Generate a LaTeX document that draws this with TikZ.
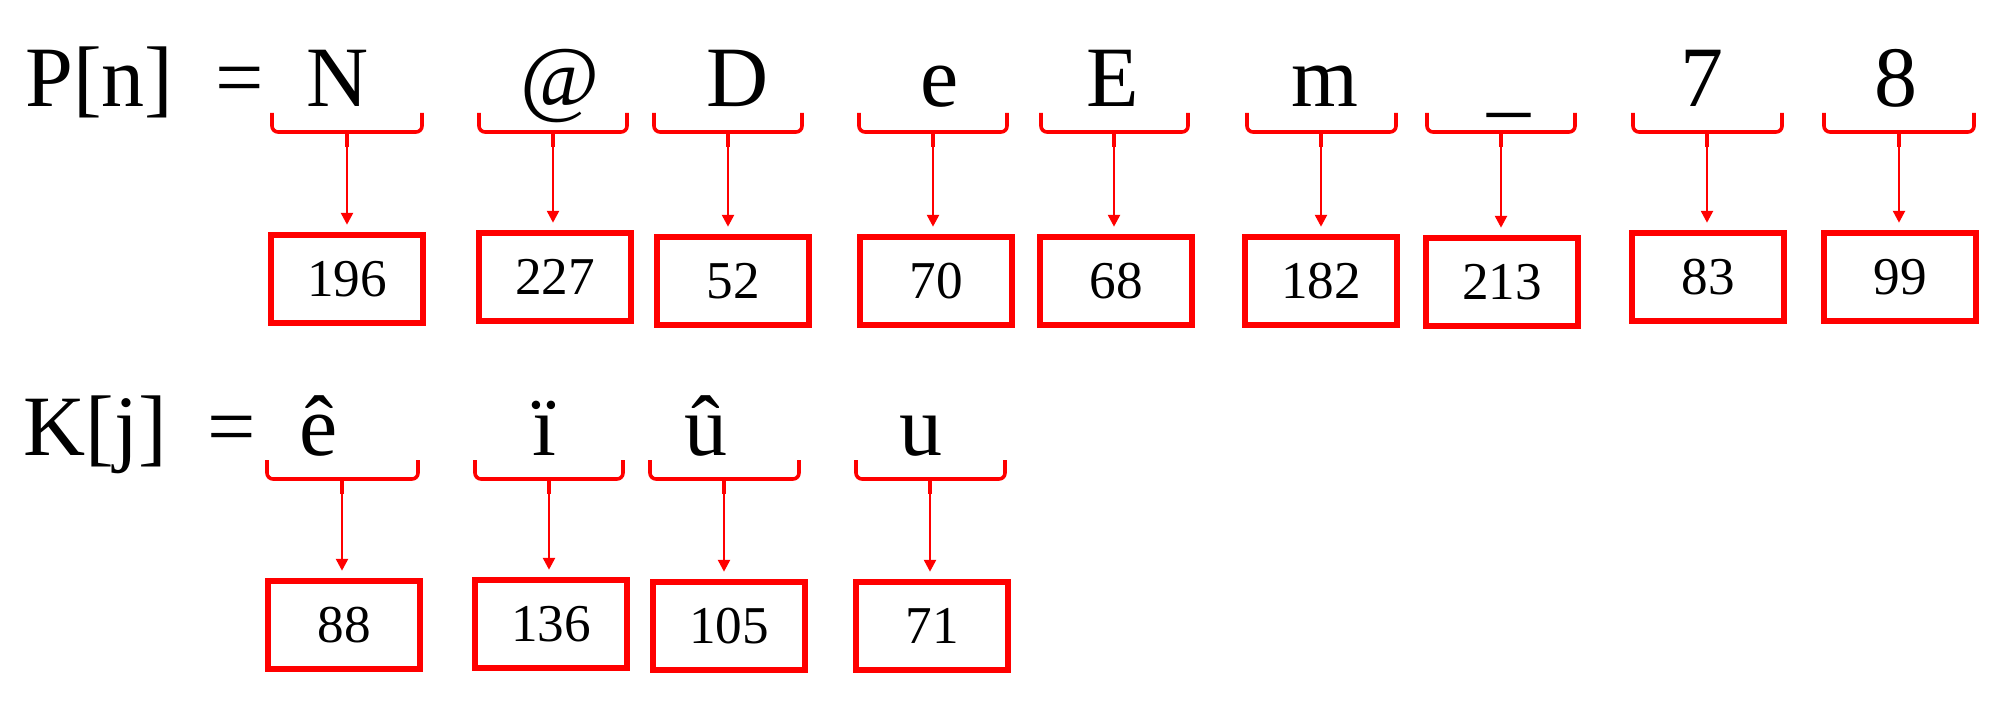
\documentclass[tikz,border=0pt]{standalone}
\usepackage{fontspec}
\setmainfont{Liberation Serif}
\usetikzlibrary{arrows.meta}

\tikzset{
  sym/.style={font=\fontsize{43}{50}\selectfont,inner sep=0pt,anchor=base},
  val/.style={draw=red,line width=3.25pt,minimum width=76pt,minimum height=44pt,
    inner sep=0pt,font=\fontsize{26.6}{30}\selectfont},
  brc/.style={red,line width=1.8pt,rounded corners=3pt},
  link/.style={red,line width=1.3pt,-{Triangle[width=6pt,length=6pt]},shorten >=3.5pt}
}

\begin{document}
\begin{tikzpicture}[x=0.5pt,y=-0.5pt]
  \useasboundingbox (0,0) rectangle (1998,701);
  % plaintext row
  \node[sym,anchor=base west] (P) at (25,107) {P[n]};
  \node[sym] (eqP) at (240,107) {=};
  \node[sym] (p1) at (338,107) {N};
  \node[sym] (p2) at (560,107) {@};
  \node[sym] (p3) at (738,107) {D};
  \node[sym] (p4) at (940,107) {e};
  \node[sym] (p5) at (1113,107) {E};
  \node[sym] (p6) at (1325,107) {m};
  \node[sym] (p7) at (1509,107) {\_};
  \node[sym] (p8) at (1702,107) {7};
  \node[sym] (p9) at (1896,107) {8};
  \node[val] (v1) at (347,279) {196};
  \node[val] (v2) at (555,277) {227};
  \node[val] (v3) at (733,281) {52};
  \node[val] (v4) at (936,281) {70};
  \node[val] (v5) at (1116,281) {68};
  \node[val] (v6) at (1321,281) {182};
  \node[val] (v7) at (1502,282) {213};
  \node[val] (v8) at (1708,277) {83};
  \node[val] (v9) at (1900,277) {99};
  \draw[brc] (272,113) -- (272,132) -- (422,132) -- (422,113);
  \draw[brc] (479,113) -- (479,132) -- (627,132) -- (627,113);
  \draw[brc] (654,113) -- (654,132) -- (802,132) -- (802,113);
  \draw[brc] (859,113) -- (859,132) -- (1007,132) -- (1007,113);
  \draw[brc] (1041,113) -- (1041,132) -- (1188,132) -- (1188,113);
  \draw[brc] (1247,113) -- (1247,132) -- (1396,132) -- (1396,113);
  \draw[brc] (1427,113) -- (1427,132) -- (1575,132) -- (1575,113);
  \draw[brc] (1633,113) -- (1633,132) -- (1782,132) -- (1782,113);
  \draw[brc] (1824,113) -- (1824,132) -- (1974,132) -- (1974,113);
  \draw[brc] (347,132) -- (347,147) coordinate (t1);
  \draw[brc] (553,132) -- (553,147) coordinate (t2);
  \draw[brc] (728,132) -- (728,147) coordinate (t3);
  \draw[brc] (933,132) -- (933,147) coordinate (t4);
  \draw[brc] (1114,132) -- (1114,147) coordinate (t5);
  \draw[brc] (1321,132) -- (1321,147) coordinate (t6);
  \draw[brc] (1501,132) -- (1501,147) coordinate (t7);
  \draw[brc] (1707,132) -- (1707,147) coordinate (t8);
  \draw[brc] (1899,132) -- (1899,147) coordinate (t9);
  \draw[link] (t1) -- (t1 |- v1.north);
  \draw[link] (t2) -- (t2 |- v2.north);
  \draw[link] (t3) -- (t3 |- v3.north);
  \draw[link] (t4) -- (t4 |- v4.north);
  \draw[link] (t5) -- (t5 |- v5.north);
  \draw[link] (t6) -- (t6 |- v6.north);
  \draw[link] (t7) -- (t7 |- v7.north);
  \draw[link] (t8) -- (t8 |- v8.north);
  \draw[link] (t9) -- (t9 |- v9.north);
  % key row
  \node[sym,anchor=base west] (K) at (23,455) {K[j]};
  \node[sym] (eqK) at (232,455) {=};
  \node[sym] (k1) at (319,455) {ê};
  \node[sym] (k2) at (544,455) {ï};
  \node[sym] (k3) at (706,455) {û};
  \node[sym] (k4) at (921,455) {u};
  \node[val] (w1) at (344,625) {88};
  \node[val] (w2) at (551,624) {136};
  \node[val] (w3) at (729,626) {105};
  \node[val] (w4) at (932,626) {71};
  \draw[brc] (267,460) -- (267,479) -- (418,479) -- (418,460);
  \draw[brc] (475,460) -- (475,479) -- (623,479) -- (623,460);
  \draw[brc] (650,460) -- (650,479) -- (799,479) -- (799,460);
  \draw[brc] (856,460) -- (856,479) -- (1005,479) -- (1005,460);
  \draw[brc] (342,479) -- (342,494) coordinate (s1);
  \draw[brc] (549,479) -- (549,494) coordinate (s2);
  \draw[brc] (724,479) -- (724,494) coordinate (s3);
  \draw[brc] (930,479) -- (930,494) coordinate (s4);
  \draw[link] (s1) -- (s1 |- w1.north);
  \draw[link] (s2) -- (s2 |- w2.north);
  \draw[link] (s3) -- (s3 |- w3.north);
  \draw[link] (s4) -- (s4 |- w4.north);
\end{tikzpicture}
\end{document}
